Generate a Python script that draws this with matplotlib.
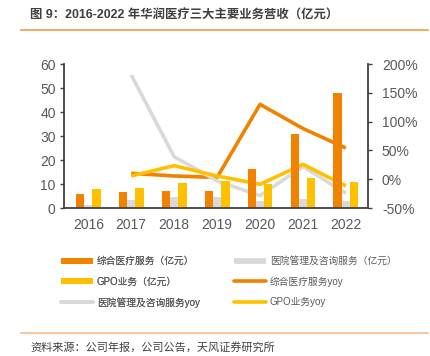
import numpy as np
import matplotlib.pyplot as plt
from matplotlib.lines import Line2D

plt.rcParams['font.family'] = ['Liberation Sans', 'Noto Sans CJK SC', 'DejaVu Sans']

years = ['2016', '2017', '2018', '2019', '2020', '2021', '2022']
# revenue, 亿元
zonghe = [6.0, 6.5, 6.9, 7.1, 16.2, 30.7, 47.9]
yiyuan = [1.1, 3.2, 4.4, 4.4, 2.9, 3.9, 2.9]
gpo = [7.9, 8.5, 10.4, 11.2, 9.9, 12.5, 10.8]
# yoy, %  (2016 has no yoy)
zonghe_yoy = [np.nan, 10.2, 5.6, 3.0, 130.0, 88.0, 54.0]
yiyuan_yoy = [np.nan, 181.0, 39.0, -3.0, -28.6, 22.0, -24.5]
gpo_yoy = [np.nan, 5.6, 23.5, 5.6, -8.9, 25.8, -11.8]

c_orange = '#F18200'
c_gray = '#D9D9D9'
c_yellow = '#FFC000'
c_text = '#595959'
c_spine = '#404040'

fig = plt.figure(figsize=(4.31, 3.56), dpi=100)
ax = fig.add_axes([64 / 431, 1 - 208 / 356, 304 / 431, 144 / 356])
ax2 = ax.twinx()

x = np.arange(len(years))
w = 0.193

# lines on the right axis, bars drawn above them
ax2.plot(x, zonghe_yoy, color=c_orange, lw=2.6, solid_capstyle='butt')
ax2.plot(x, yiyuan_yoy, color=c_gray, lw=2.6, solid_capstyle='butt')
ax2.plot(x, gpo_yoy, color=c_yellow, lw=2.6, solid_capstyle='butt')

ax.bar(x - w, zonghe, w, color=c_orange)
ax.bar(x, yiyuan, w, color=c_gray)
ax.bar(x + w, gpo, w, color=c_yellow)

ax.set_zorder(ax2.get_zorder() + 1)
ax.patch.set_visible(False)

ax.set_xlim(-0.565, 6.515)
ax.set_ylim(0, 60)
ax.set_yticks(np.arange(0, 61, 10))
ax2.set_ylim(-50, 200)
ax2.set_yticks(np.arange(-50, 201, 50))
ax2.set_yticklabels([f'{v}%' for v in range(-50, 201, 50)])
ax.set_xticks(x)
ax.set_xticklabels(years)

for a in (ax, ax2):
    for s in a.spines.values():
        s.set_visible(False)
ax.spines['left'].set_visible(True)
ax.spines['bottom'].set_visible(True)
ax2.spines['right'].set_visible(True)
for s in (ax.spines['left'], ax.spines['bottom'], ax2.spines['right']):
    s.set_color(c_spine)
    s.set_linewidth(1.3)

ax.tick_params(axis='y', direction='out', length=3, width=1, color=c_spine,
               labelsize=10, labelcolor=c_text, pad=3)
ax.tick_params(axis='x', length=0, labelsize=10, labelcolor=c_text, pad=7)
ax2.tick_params(axis='y', direction='out', length=3, width=1, color=c_spine,
                labelsize=10, labelcolor=c_text, pad=7)

# title and rules
fig.text(30 / 431, 1 - 16 / 356, '图 9：2016-2022 年华润医疗三大主要业务营收（亿元）',
         fontsize=8.9, fontweight='bold', color='#3F3F3F', va='center', ha='left')
fig.add_artist(Line2D([21 / 431, 428 / 431], [1 - 30 / 356, 1 - 30 / 356],
                      color='#F0952E', lw=1.1))
fig.add_artist(Line2D([21 / 431, 428 / 431], [1 - 333 / 356, 1 - 333 / 356],
                      color='#F5B784', lw=1.1))
fig.text(30 / 431, 1 - 347 / 356, '资料来源：公司年报，公司公告，天风证券研究所',
         fontsize=8, color='#404040', va='center', ha='left')

# legend, two columns placed separately
col1 = [Line2D([], [], color=c_orange, lw=4.2, solid_capstyle='butt'),
        Line2D([], [], color=c_yellow, lw=4.2, solid_capstyle='butt'),
        Line2D([], [], color=c_gray, lw=2.6, solid_capstyle='round')]
lab1 = ['综合医疗服务（亿元）', 'GPO业务（亿元）', '医院管理及咨询服务yoy']
col2 = [Line2D([], [], color=c_gray, lw=4.2, solid_capstyle='butt'),
        Line2D([], [], color=c_orange, lw=2.6, solid_capstyle='round'),
        Line2D([], [], color=c_yellow, lw=2.6, solid_capstyle='round')]
lab2 = ['医院管理及咨询服务（亿元）', '综合医疗服务yoy', 'GPO业务yoy']
leg_kw = dict(loc='upper left', frameon=False, fontsize=7, handlelength=3.3,
              handletextpad=0.4, labelspacing=1.08, borderaxespad=0, borderpad=0,
              labelcolor=c_text)
l1 = fig.legend(col1, lab1, bbox_to_anchor=(61 / 431, 1 - 256 / 356), **leg_kw)
fig.add_artist(l1)
fig.legend(col2, lab2, bbox_to_anchor=(234 / 431, 1 - 256 / 356), **leg_kw)

fig.savefig('out.png', dpi=100)
